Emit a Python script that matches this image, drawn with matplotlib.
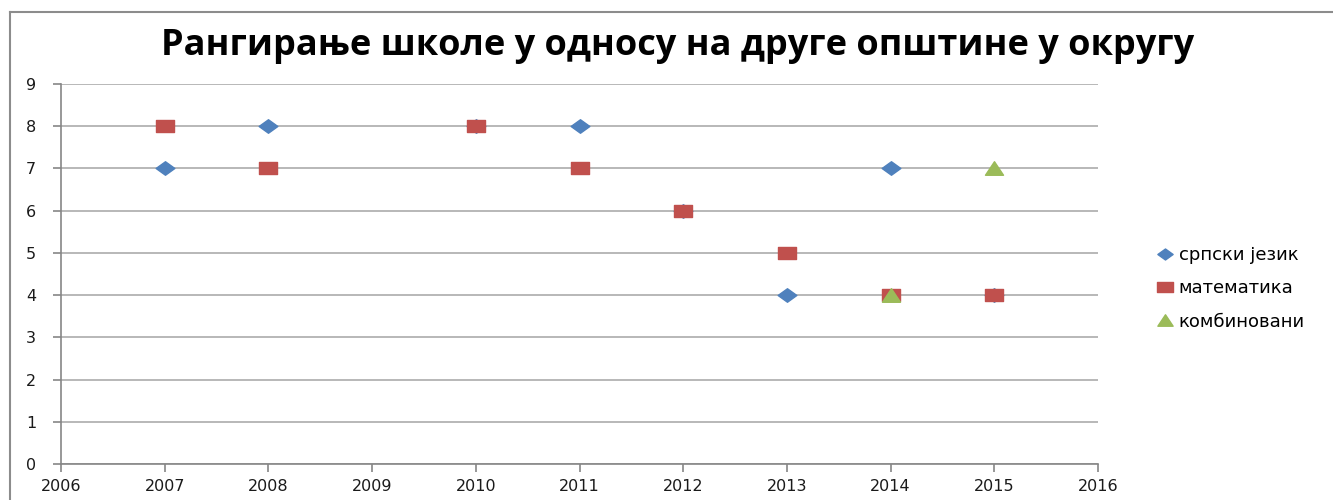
import matplotlib
matplotlib.use("Agg")
import matplotlib.pyplot as plt
from matplotlib.path import Path
from matplotlib.lines import Line2D

title = "Рангирање школе у односу на друге општине у округу"
series_names = ["српски језик", "математика", "комбиновани"]

srpski_x = [2007, 2008, 2010, 2011, 2012, 2013, 2014, 2015]
srpski_y = [7, 8, 8, 8, 6, 4, 7, 4]
mat_x = [2007, 2008, 2010, 2011, 2012, 2013, 2014, 2015]
mat_y = [8, 7, 8, 7, 6, 5, 4, 4]
komb_x = [2014, 2015]
komb_y = [4, 7]

x_ticks = list(range(2006, 2017))
y_ticks = list(range(0, 10))

colors = ["#4F81BD", "#C0504D", "#9BBB59"]
axis_gray = "#868686"

diamond = Path([(-1, 0), (0, 0.72), (1, 0), (0, -0.72), (-1, 0)],
               [Path.MOVETO, Path.LINETO, Path.LINETO, Path.LINETO, Path.CLOSEPOLY])
rect = Path([(-1, -0.7), (1, -0.7), (1, 0.7), (-1, 0.7), (-1, -0.7)],
            [Path.MOVETO, Path.LINETO, Path.LINETO, Path.LINETO, Path.CLOSEPOLY])
tri = Path([(-1, -0.75), (1, -0.75), (0, 0.75), (-1, -0.75)],
           [Path.MOVETO, Path.LINETO, Path.LINETO, Path.CLOSEPOLY])

fig = plt.figure(figsize=(13.33, 5.0), dpi=100)
ax = fig.add_axes([61/1333, 36/500, (1098-61)/1333, (464-84)/500])

ax.plot(srpski_x, srpski_y, linestyle="none", marker=diamond, markersize=13.5,
        color=colors[0], markeredgecolor=colors[0], label=series_names[0], zorder=3)
ax.plot(mat_x, mat_y, linestyle="none", marker=rect, markersize=13,
        color=colors[1], markeredgecolor=colors[1], label=series_names[1], zorder=4)
ax.plot(komb_x, komb_y, linestyle="none", marker=tri, markersize=13,
        color=colors[2], markeredgecolor=colors[2], label=series_names[2], zorder=5)

ax.set_xlim(2006, 2016)
ax.set_ylim(0, 9)
ax.set_xticks(x_ticks)
ax.set_yticks(y_ticks)
ax.set_xticklabels([str(t) for t in x_ticks])
ax.set_yticklabels([str(t) for t in y_ticks])
ax.yaxis.grid(True, color="#ABABAB", linewidth=1.2)
ax.set_axisbelow(True)
for s in ["top", "right"]:
    ax.spines[s].set_visible(False)
for s in ["left", "bottom"]:
    ax.spines[s].set_color(axis_gray)
    ax.spines[s].set_linewidth(1.2)
ax.tick_params(axis="both", colors=axis_gray, labelcolor="#1a1a1a",
               labelsize=11.5, length=6, width=1.2, direction="out")
ax.tick_params(axis="y", pad=12)
ax.tick_params(axis="x", pad=5)
for lbl in ax.get_xticklabels() + ax.get_yticklabels():
    lbl.set_family("DejaVu Sans")

fig.text(678/1333, 1 - 46/500, title, ha="center", va="center",
         fontsize=26, fontweight="bold", family="Open Sans", color="black")

handles = [Line2D([], [], linestyle="none", marker=m, markersize=11, color=c,
                  markeredgecolor=c) for m, c in zip([diamond, rect, tri], colors)]
fig.legend(handles, series_names, loc="upper left",
           bbox_to_anchor=(1157/1333, 1 - 246/500), frameon=False,
           fontsize=13, handlelength=0.9, handletextpad=0.3, labelspacing=0.85,
           borderpad=0, borderaxespad=0)

fig.add_artist(Line2D([10/1333, 10/1333], [0, 1 - 12/500], color="#8C8C8C",
                      linewidth=1.5, transform=fig.transFigure))
fig.add_artist(Line2D([10/1333, 1], [1 - 12/500, 1 - 12/500], color="#8C8C8C",
                      linewidth=1.5, transform=fig.transFigure))

fig.savefig("out.png", dpi=100)
